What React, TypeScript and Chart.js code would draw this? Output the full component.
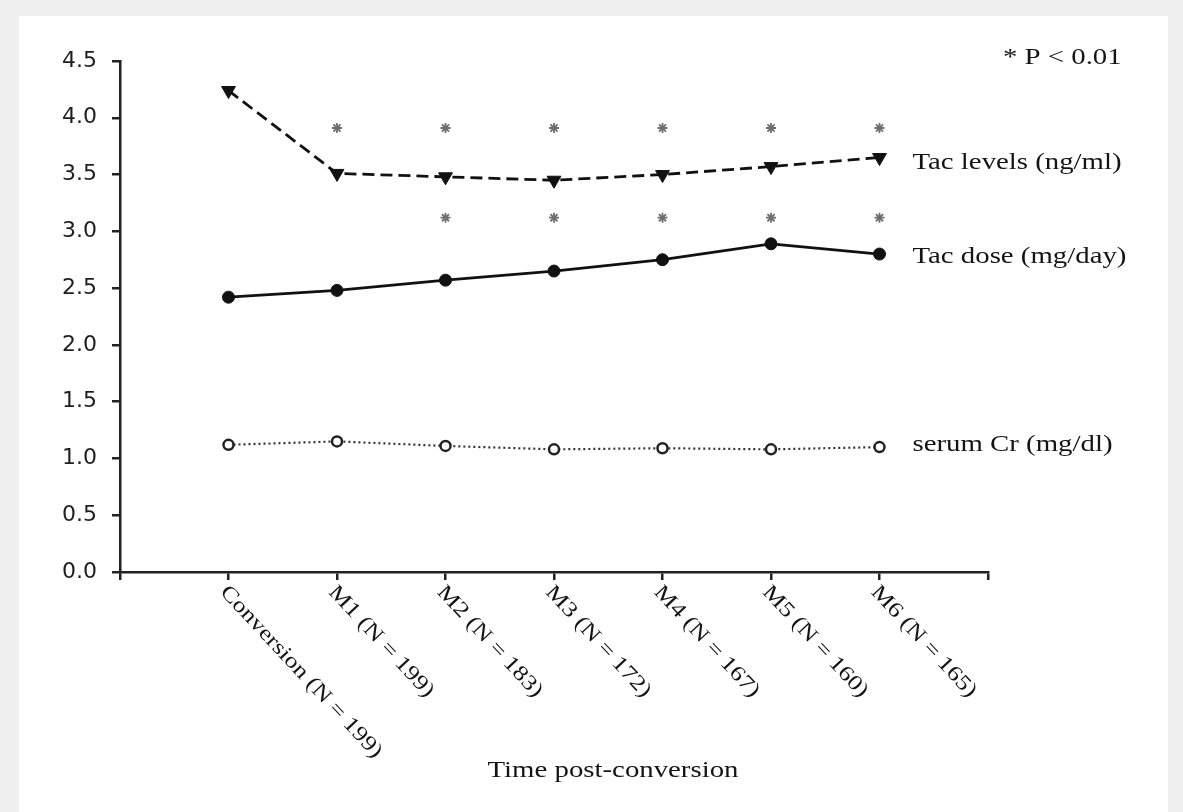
import React, { useEffect, useRef } from "react";
import { Chart, registerables } from "chart.js";

Chart.register(...registerables);

const categories = [
  "Conversion (N = 199)",
  "M1 (N = 199)",
  "M2 (N = 183)",
  "M3 (N = 172)",
  "M4 (N = 167)",
  "M5 (N = 160)",
  "M6 (N = 165)",
];
const tacLevels = [4.24, 3.51, 3.48, 3.45, 3.5, 3.57, 3.65];
const tacDose = [2.42, 2.48, 2.57, 2.65, 2.75, 2.89, 2.8];
const serumCr = [1.12, 1.15, 1.11, 1.08, 1.09, 1.08, 1.1];
const sigLevels = [null, 3.91, 3.91, 3.91, 3.91, 3.91, 3.91];
const sigDose = [null, null, 3.12, 3.12, 3.12, 3.12, 3.12];
const seriesNames = ["Tac levels (ng/ml)", "Tac dose (mg/day)", "serum Cr (mg/dl)"];
const pNote = "* P < 0.01";
const xTitle = "Time post-conversion";
const yMin = 0;
const yMax = 4.5;
const yStep = 0.5;

const STRETCH = 1.2;
const SERIF = '"Liberation Serif", "Times New Roman", serif';

const toPoints = (arr: (number | null)[]) =>
  arr.map((v, i) => ({ x: i + 1, y: v }));

function drawText(
  ctx: CanvasRenderingContext2D,
  text: string,
  x: number,
  y: number,
  align: "left" | "center",
  size: number,
  rot = 0
) {
  ctx.save();
  ctx.translate(x, y);
  if (rot) ctx.rotate(rot);
  ctx.scale(STRETCH, 1);
  ctx.font = `${size}px ${SERIF}`;
  ctx.textAlign = align;
  ctx.textBaseline = "middle";
  ctx.fillText(text, 0, 0);
  ctx.restore();
}

const annotPlugin = {
  id: "annot",
  afterDraw(chart: any) {
    const { ctx, scales } = chart;
    const x = scales.x;
    const y = scales.y;
    ctx.save();
    ctx.fillStyle = "#141414";
    categories.forEach((c, i) => {
      const px = x.getPixelForValue(i + 1);
      drawText(ctx, c, px - 5, y.bottom + 17, "left", 21.5, (47 * Math.PI) / 180);
    });
    const lastIdx = categories.length - 1;
    const series = [tacLevels, tacDose, serumCr];
    const offs = [5, 3, -2];
    const lx = x.getPixelForValue(lastIdx + 1) + 33;
    series.forEach((s, k) => {
      const py = y.getPixelForValue(s[lastIdx]) + offs[k];
      drawText(ctx, seriesNames[k], lx, py, "left", 24);
    });
    drawText(ctx, pNote, 1003, 58, "left", 24);
    drawText(ctx, xTitle, 613, 771, "center", 24);
    ctx.restore();
  },
};

export default function App() {
  const ref = useRef<HTMLCanvasElement | null>(null);
  useEffect(() => {
    if (!ref.current) return;
    const chart = new Chart(ref.current, {
      type: "line",
      data: {
        datasets: [
          {
            label: seriesNames[0],
            data: toPoints(tacLevels),
            borderColor: "#111",
            borderWidth: 2.8,
            borderDash: [12, 6],
            pointStyle: "triangle",
            rotation: 180,
            pointRadius: 8,
            pointBackgroundColor: "#111",
            pointBorderColor: "#111",
            pointBorderWidth: 1,
          },
          {
            label: seriesNames[1],
            data: toPoints(tacDose),
            borderColor: "#111",
            borderWidth: 2.8,
            pointStyle: "circle",
            pointRadius: 6,
            pointBackgroundColor: "#111",
            pointBorderColor: "#111",
            pointBorderWidth: 1,
          },
          {
            label: seriesNames[2],
            data: toPoints(serumCr),
            borderColor: "#333",
            borderWidth: 2.2,
            borderDash: [2, 3],
            pointStyle: "circle",
            pointRadius: 5,
            pointBackgroundColor: "#fff",
            pointBorderColor: "#222",
            pointBorderWidth: 2.5,
          },
          {
            label: "sig1",
            data: toPoints(sigLevels),
            showLine: false,
            pointStyle: "star",
            pointRadius: 5,
            pointBorderColor: "#6e6e6e",
            pointBorderWidth: 1.8,
          },
          {
            label: "sig2",
            data: toPoints(sigDose),
            showLine: false,
            pointStyle: "star",
            pointRadius: 5,
            pointBorderColor: "#6e6e6e",
            pointBorderWidth: 1.8,
          },
        ],
      },
      options: {
        responsive: false,
        animation: false,
        layout: { padding: { top: 61, right: 195, left: 0, bottom: 0 } },
        plugins: { legend: { display: false }, tooltip: { enabled: false } },
        scales: {
          x: {
            type: "linear",
            min: 0,
            max: categories.length + 1,
            ticks: { display: false, stepSize: 1 },
            grid: {
              drawOnChartArea: false,
              tickLength: 8,
              tickColor: "#222",
              lineWidth: 2.5,
            },
            border: { display: true, color: "#222", width: 2.5 },
            afterFit: (s: any) => {
              s.height = 240;
            },
          },
          y: {
            min: yMin,
            max: yMax,
            ticks: {
              stepSize: yStep,
              padding: 15,
              color: "#1e1e1e",
              font: { family: '"DejaVu Sans", Verdana, sans-serif', size: 22 },
              callback: (v: any) => Number(v).toFixed(1),
            },
            grid: {
              drawOnChartArea: false,
              tickLength: 8,
              tickColor: "#222",
              lineWidth: 2.5,
            },
            border: { display: true, color: "#222", width: 2.5 },
            afterFit: (s: any) => {
              s.width = 120;
            },
          },
        },
      },
      plugins: [annotPlugin],
    });
    return () => chart.destroy();
  }, []);

  return (
    <div
      style={{
        position: "fixed",
        left: 0,
        top: 0,
        width: 1183,
        height: 812,
        background: "#efefef",
        overflow: "hidden",
      }}
    >
      <div
        style={{
          position: "absolute",
          left: 19,
          top: 16,
          width: 1149,
          height: 796,
          background: "#fff",
        }}
      />
      <canvas
        ref={ref}
        width={1183}
        height={812}
        style={{ position: "absolute", left: 0, top: 0, display: "block" }}
      />
    </div>
  );
}
